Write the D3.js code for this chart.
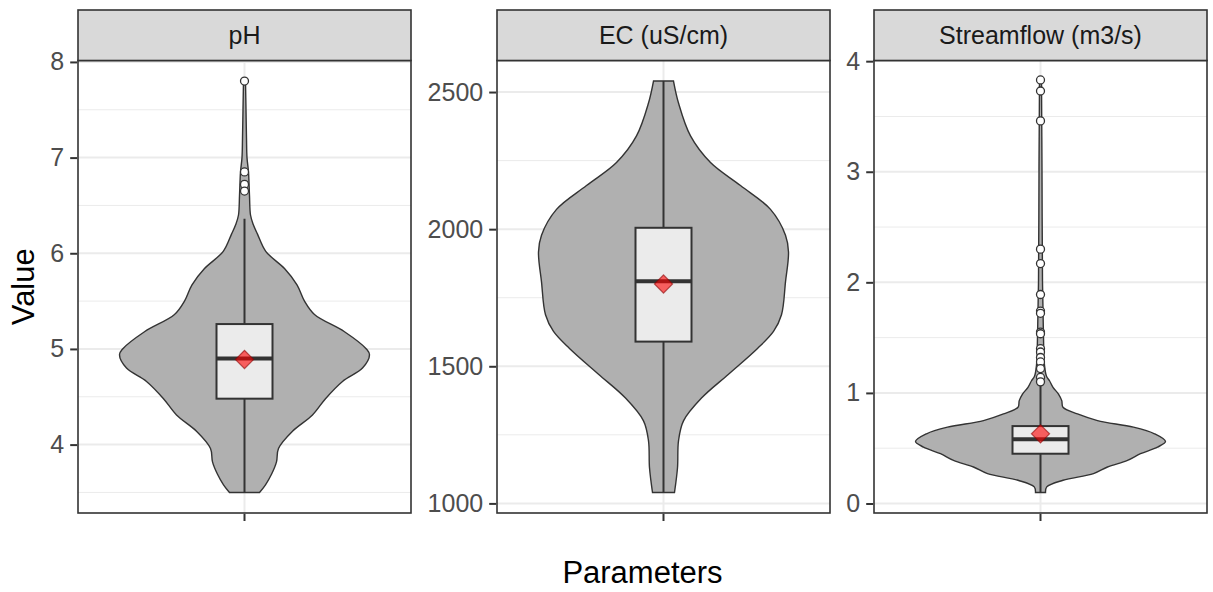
<!DOCTYPE html>
<html>
<head>
<meta charset="utf-8">
<script src="https://cdn.jsdelivr.net/npm/d3@7"></script>
<style>
  body { margin: 0; background: #fff; }
  svg { display: block; font-family: "Liberation Sans", Arial, sans-serif; }
</style>
</head>
<body>
<div class="res"></div>
<script>
// facet names
const categories = ['pH', 'EC (uS/cm)', 'Streamflow (m3/s)'];

// violin outlines: [value, relative half width]
const phViolin = [
  [7.80, 0.008], [7.50, 0.012], [7.20, 0.016], [7.00, 0.02], [6.85, 0.032], [6.60, 0.04],
  [6.40, 0.048], [6.30, 0.07], [6.20, 0.104], [6.02, 0.17], [5.84, 0.32], [5.67, 0.42],
  [5.50, 0.48], [5.36, 0.56], [5.18, 0.80], [5.00, 0.975], [4.94, 1.0], [4.80, 0.944],
  [4.66, 0.784], [4.48, 0.648], [4.31, 0.544], [4.14, 0.384], [3.96, 0.272], [3.82, 0.256],
  [3.69, 0.216], [3.58, 0.168], [3.50, 0.12]
];
const ecViolin = [
  [2540, 0.08], [2460, 0.12], [2340, 0.216], [2243, 0.376], [2159, 0.616], [2072, 0.856],
  [1978, 0.976], [1917, 1.0], [1808, 0.976], [1688, 0.944], [1627, 0.88], [1565, 0.752],
  [1471, 0.52], [1384, 0.304], [1301, 0.16], [1228, 0.12], [1130, 0.112], [1040, 0.088]
];
const flowViolin = [
  [3.82, 0.008], [3.00, 0.012], [2.00, 0.016], [1.50, 0.024], [1.25, 0.032], [1.15, 0.048],
  [1.11, 0.072], [1.05, 0.10], [0.99, 0.144], [0.93, 0.17], [0.87, 0.18], [0.81, 0.296],
  [0.75, 0.456], [0.69, 0.744], [0.63, 0.912], [0.56, 1.0], [0.51, 0.936], [0.45, 0.80],
  [0.39, 0.696], [0.33, 0.536], [0.27, 0.424], [0.21, 0.18], [0.15, 0.05], [0.10, 0.04]
];
const violins = [phViolin, ecViolin, flowViolin];

// box stats: [lower whisker, Q1, median, Q3, upper whisker]
const boxStats = [
  [3.50, 4.48, 4.90, 5.26, 6.36],
  [1040, 1590, 1810, 2005, 2540],
  [0.10, 0.45, 0.58, 0.70, 1.07]
];
const means = [4.89, 1800, 0.63];

// outliers
const phOutliers = [7.80, 6.85, 6.72, 6.65];
const ecOutliers = [];
const flowOutliers = [3.83, 3.73, 3.46, 2.30, 2.17, 1.89, 1.74, 1.72, 1.55, 1.535,
  1.40, 1.37, 1.32, 1.28, 1.22, 1.14, 1.10];
const outliers = [phOutliers, ecOutliers, flowOutliers];

// data range of each facet and tick labels
const ranges = [[3.5, 7.8], [1040, 2540], [0.1, 3.82]];
const majorTicks = [[4, 5, 6, 7, 8], [1000, 1500, 2000, 2500], [0, 1, 2, 3, 4]];
const minorTicks = [[3.5, 4.5, 5.5, 6.5, 7.5], [1250, 1750, 2250], [0.5, 1.5, 2.5, 3.5]];

const W = 1213, H = 592;
const panelLeft = [78, 497, 874];
const panelW = 333;
const stripTop = 10, panelTop = 60.5, panelBottom = 513;

const svg = d3.select('div.res').append('svg')
  .attr('width', W)
  .attr('height', H);

categories.forEach((name, i) => {
  const x0 = panelLeft[i];
  const cx = x0 + panelW / 2;
  const r = ranges[i];
  const pad = (r[1] - r[0]) * 0.05;
  const y = d3.scaleLinear()
    .domain([r[0] - pad, r[1] + pad])
    .range([panelBottom, panelTop]);
  const hw = d3.scaleLinear().domain([0, 1]).range([0, 125]);

  const g = svg.append('g');

  // panel background + grid
  g.append('rect')
    .attr('x', x0).attr('y', panelTop)
    .attr('width', panelW).attr('height', panelBottom - panelTop)
    .attr('fill', '#fff');

  g.selectAll('line.minor')
    .data(minorTicks[i])
    .enter().append('line')
    .attr('x1', x0).attr('x2', x0 + panelW)
    .attr('y1', d => y(d)).attr('y2', d => y(d))
    .attr('stroke', '#ebebeb').attr('stroke-width', 1);

  g.selectAll('line.major')
    .data(majorTicks[i].filter(d => y(d) > panelTop + 1 && y(d) < panelBottom - 1))
    .enter().append('line')
    .attr('x1', x0).attr('x2', x0 + panelW)
    .attr('y1', d => y(d)).attr('y2', d => y(d))
    .attr('stroke', '#ebebeb').attr('stroke-width', 2);

  g.append('line')
    .attr('x1', cx).attr('x2', cx)
    .attr('y1', panelTop).attr('y2', panelBottom)
    .attr('stroke', '#ebebeb').attr('stroke-width', 2);

  // violin
  const area = d3.area()
    .y(d => y(d[0]))
    .x0(d => cx - hw(d[1]))
    .x1(d => cx + hw(d[1]))
    .curve(d3.curveCatmullRom.alpha(0.5));

  g.append('path')
    .datum(violins[i])
    .attr('d', area)
    .attr('fill', '#b0b0b0')
    .attr('stroke', '#333')
    .attr('stroke-width', 1.4);

  // box plot
  const s = boxStats[i];
  const bw = 28;
  g.append('line')
    .attr('x1', cx).attr('x2', cx)
    .attr('y1', y(s[0])).attr('y2', y(s[4]))
    .attr('stroke', '#333').attr('stroke-width', 2);

  g.append('rect')
    .attr('x', cx - bw).attr('width', bw * 2)
    .attr('y', y(s[3])).attr('height', y(s[1]) - y(s[3]))
    .attr('fill', '#ebebeb')
    .attr('stroke', '#333').attr('stroke-width', 2);

  g.append('line')
    .attr('x1', cx - bw).attr('x2', cx + bw)
    .attr('y1', y(s[2])).attr('y2', y(s[2]))
    .attr('stroke', '#333').attr('stroke-width', 4);

  // outliers
  g.selectAll('circle.out')
    .data(outliers[i])
    .enter().append('circle')
    .attr('cx', cx).attr('cy', d => y(d))
    .attr('r', 4)
    .attr('fill', '#fff')
    .attr('stroke', '#333').attr('stroke-width', 1.3);

  // mean diamond
  g.append('path')
    .attr('d', d3.symbol().type(d3.symbolSquare).size(165))
    .attr('transform', `translate(${cx},${y(means[i])}) rotate(45)`)
    .attr('fill', 'red').attr('fill-opacity', 0.6)
    .attr('stroke', '#8b0000').attr('stroke-opacity', 0.6).attr('stroke-width', 1.2);

  // panel border
  g.append('rect')
    .attr('x', x0).attr('y', panelTop)
    .attr('width', panelW).attr('height', panelBottom - panelTop)
    .attr('fill', 'none')
    .attr('stroke', '#333').attr('stroke-width', 1.6);

  // strip
  g.append('rect')
    .attr('x', x0).attr('y', stripTop)
    .attr('width', panelW).attr('height', panelTop - stripTop)
    .attr('fill', '#d9d9d9')
    .attr('stroke', '#333').attr('stroke-width', 1.6);

  g.append('text')
    .attr('x', cx).attr('y', (stripTop + panelTop) / 2 + 9)
    .attr('text-anchor', 'middle')
    .style('font-size', '25px')
    .attr('fill', '#1a1a1a')
    .text(name);

  // y axis
  const yAxis = d3.axisLeft(y)
    .tickValues(majorTicks[i])
    .tickFormat(d3.format('d'))
    .tickSize(7)
    .tickPadding(6);
  const ax = g.append('g')
    .attr('transform', `translate(${x0 - 0.8},0)`)
    .call(yAxis);
  ax.select('.domain').remove();
  ax.selectAll('line').attr('stroke', '#333').attr('stroke-width', 2);
  ax.selectAll('text')
    .style('font-size', '25px')
    .style('font-family', '"Liberation Sans", Arial, sans-serif')
    .attr('fill', '#4d4d4d');

  // x tick (no label)
  g.append('line')
    .attr('x1', cx).attr('x2', cx)
    .attr('y1', panelBottom + 0.8).attr('y2', panelBottom + 8)
    .attr('stroke', '#333').attr('stroke-width', 2);
});

// axis titles
svg.append('text')
  .attr('x', (panelLeft[0] + panelLeft[2] + panelW) / 2)
  .attr('y', 583)
  .attr('text-anchor', 'middle')
  .style('font-size', '31px')
  .attr('fill', '#000')
  .text('Parameters');

svg.append('text')
  .attr('transform', `translate(34,${(panelTop + panelBottom) / 2}) rotate(-90)`)
  .attr('text-anchor', 'middle')
  .style('font-size', '31px')
  .attr('fill', '#000')
  .text('Value');
</script>
</body>
</html>
